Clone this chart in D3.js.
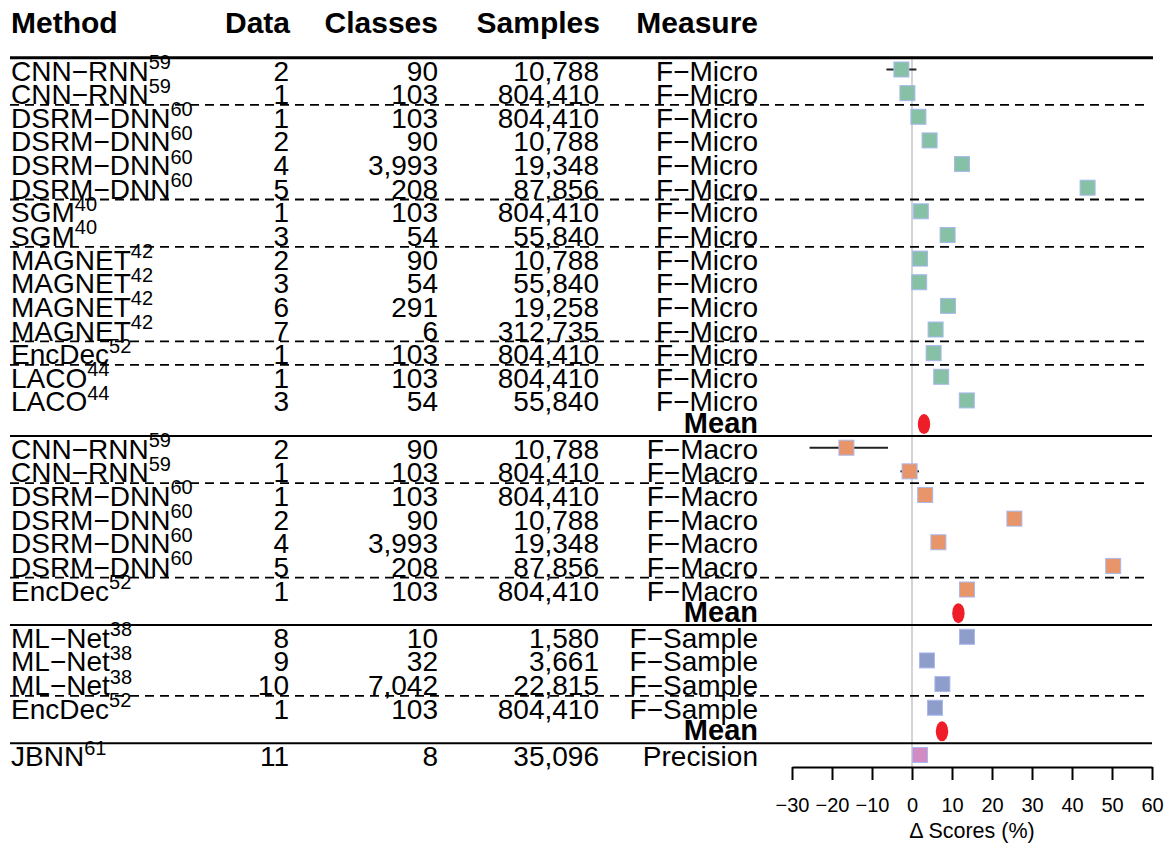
<!DOCTYPE html>
<html lang="en">
<head>
    <meta charset="UTF-8">
    <title>Forest plot</title>
    <script src="https://d3js.org/d3.v7.min.js"></script>
    <style>
        body { margin: 0; background: #fff; }
        text { font-family: "Liberation Sans", Arial, Helvetica, sans-serif; fill: #000; }
        .hdr { font-size: 30px; font-weight: bold; }
        .cell { font-size: 28px; }
        .sup { font-size: 20px; }
        .mean-lbl { font-size: 29px; font-weight: bold; }
        .axis text { font-size: 20px; }
    </style>
</head>
<body>
    <svg width="1170" height="846"></svg>
    <script>
        // study rows, top to bottom
        const methods = ["CNN−RNN", "CNN−RNN", "DSRM−DNN", "DSRM−DNN", "DSRM−DNN", "DSRM−DNN", "SGM", "SGM",
                         "MAGNET", "MAGNET", "MAGNET", "MAGNET", "EncDec", "LACO", "LACO",
                         "CNN−RNN", "CNN−RNN", "DSRM−DNN", "DSRM−DNN", "DSRM−DNN", "DSRM−DNN", "EncDec",
                         "ML−Net", "ML−Net", "ML−Net", "EncDec",
                         "JBNN"];
        const refs = ["59", "59", "60", "60", "60", "60", "40", "40", "42", "42", "42", "42", "52", "44", "44",
                      "59", "59", "60", "60", "60", "60", "52",
                      "38", "38", "38", "52",
                      "61"];
        const dataIds = [2, 1, 1, 2, 4, 5, 1, 3, 2, 3, 6, 7, 1, 1, 3,
                         2, 1, 1, 2, 4, 5, 1,
                         8, 9, 10, 1,
                         11];
        const classes = [90, 103, 103, 90, 3993, 208, 103, 54, 90, 54, 291, 6, 103, 103, 54,
                         90, 103, 103, 90, 3993, 208, 103,
                         10, 32, 7042, 103,
                         8];
        const samples = [10788, 804410, 804410, 10788, 19348, 87856, 804410, 55840, 10788, 55840, 19258, 312735, 804410, 804410, 55840,
                         10788, 804410, 804410, 10788, 19348, 87856, 804410,
                         1580, 3661, 22815, 804410,
                         35096];
        const measures = ["F−Micro", "F−Micro", "F−Micro", "F−Micro", "F−Micro", "F−Micro", "F−Micro", "F−Micro",
                          "F−Micro", "F−Micro", "F−Micro", "F−Micro", "F−Micro", "F−Micro", "F−Micro",
                          "F−Macro", "F−Macro", "F−Macro", "F−Macro", "F−Macro", "F−Macro", "F−Macro",
                          "F−Sample", "F−Sample", "F−Sample", "F−Sample",
                          "Precision"];
        const deltas = [-2.65, -1.15, 1.6, 4.4, 12.5, 43.9, 2.2, 8.9, 2.0, 1.8, 9.0, 5.9, 5.4, 7.3, 13.7,
                        -16.4, -0.6, 3.3, 25.6, 6.6, 50.3, 13.75,
                        13.75, 3.75, 7.6, 5.75,
                        2.0];
        // confidence interval ends (null = not drawn)
        const ciLow = [-6.4, null, null, null, null, null, null, null, null, null, null, null, null, null, null,
                       -25.6, -2.9, null, null, null, null, null,
                       null, null, null, null,
                       null];
        const ciHigh = [1.1, null, null, null, null, null, null, null, null, null, null, null, null, null, null,
                        -6.0, 1.75, null, null, null, null, null,
                        null, null, null, null,
                        null];

        const sections = ["F−Micro", "F−Macro", "F−Sample", "Precision"];
        const sectionMeans = [3.0, 11.6, 7.5, null];
        const sectionColors = ["#86c1a6", "#e8956a", "#8f9dcb", "#d38bc4"];
        const xTicks = [-30, -20, -10, 0, 10, 20, 30, 40, 50, 60];

        const fmt = d3.format(",");

        // build row layout: studies plus a mean row after each section
        const rows = [];
        sections.forEach((s, si) => {
            measures.forEach((m, i) => {
                if (m === s) rows.push({ kind: "study", i: i, sec: si });
            });
            if (sectionMeans[si] !== null) rows.push({ kind: "mean", sec: si, value: sectionMeans[si] });
        });

        const svg = d3.select("svg");

        const y = d3.scalePoint()
                    .domain(d3.range(rows.length))
                    .range([69.5, 755]);
        const x = d3.scaleLinear()
                    .domain([-30, 60])
                    .range([792, 1152]);
        const color = d3.scaleOrdinal().domain(sections).range(sectionColors);
        const step = y.step();

        // header
        const headers = [
            { t: "Method", x: 11, a: "start" },
            { t: "Data", x: 290, a: "end" },
            { t: "Classes", x: 438, a: "end" },
            { t: "Samples", x: 600, a: "end" },
            { t: "Measure", x: 758, a: "end" }
        ];
        svg.selectAll(".hdr")
           .data(headers)
           .enter().append("text")
           .attr("class", "hdr")
           .attr("x", d => d.x)
           .attr("y", 33)
           .attr("text-anchor", d => d.a)
           .text(d => d.t);

        // reference line at zero
        svg.append("line")
           .attr("x1", x(0)).attr("x2", x(0))
           .attr("y1", 56).attr("y2", 767)
           .attr("stroke", "#d4d4d4")
           .attr("stroke-width", 2);

        // table text
        const studyRows = rows.map((r, k) => ({ ...r, k })).filter(r => r.kind === "study");
        const meanRows = rows.map((r, k) => ({ ...r, k })).filter(r => r.kind === "mean");
        const base = k => y(k) + 11;

        const m = svg.selectAll(".method")
           .data(studyRows)
           .enter().append("text")
           .attr("class", "cell method")
           .attr("x", 11)
           .attr("y", d => base(d.k));
        m.append("tspan").text(d => methods[d.i]);
        m.append("tspan").attr("class", "sup").attr("dy", -11.5).text(d => refs[d.i]);

        const cols = [
            { x: 289, f: i => dataIds[i] },
            { x: 438, f: i => fmt(classes[i]) },
            { x: 599, f: i => fmt(samples[i]) },
            { x: 758, f: i => measures[i] }
        ];
        cols.forEach(c => {
            svg.selectAll(null)
               .data(studyRows)
               .enter().append("text")
               .attr("class", "cell")
               .attr("x", c.x)
               .attr("y", d => base(d.k))
               .attr("text-anchor", "end")
               .text(d => c.f(d.i));
        });

        svg.selectAll(".mean-lbl")
           .data(meanRows)
           .enter().append("text")
           .attr("class", "mean-lbl")
           .attr("x", 758)
           .attr("y", d => y(d.k) + 9)
           .attr("text-anchor", "end")
           .text("Mean");

        // separators
        svg.append("line")
           .attr("x1", 10).attr("x2", 1153)
           .attr("y1", y(0) - step / 2).attr("y2", y(0) - step / 2)
           .attr("stroke", "#000").attr("stroke-width", 3);
        for (let k = 0; k < rows.length - 1; k++) {
            const a = rows[k], b = rows[k + 1];
            const yy = y(k) + step / 2;
            if (a.kind === "mean") {
                svg.append("line")
                   .attr("x1", 10).attr("x2", 1152)
                   .attr("y1", yy).attr("y2", yy)
                   .attr("stroke", "#000").attr("stroke-width", 2);
            } else if (b.kind === "study" && a.sec === b.sec && methods[a.i] !== methods[b.i]) {
                svg.append("line")
                   .attr("x1", 10).attr("x2", 1145)
                   .attr("y1", yy).attr("y2", yy)
                   .attr("stroke", "#000").attr("stroke-width", 1.8)
                   .attr("stroke-dasharray", "9,6");
            }
        }

        // confidence intervals
        svg.selectAll(".ci")
           .data(studyRows.filter(d => ciLow[d.i] !== null))
           .enter().append("line")
           .attr("class", "ci")
           .attr("x1", d => x(ciLow[d.i]))
           .attr("x2", d => x(ciHigh[d.i]))
           .attr("y1", d => y(d.k))
           .attr("y2", d => y(d.k))
           .attr("stroke", "#222")
           .attr("stroke-width", 2);

        // study squares
        const sz = 15;
        svg.selectAll(".sq")
           .data(studyRows)
           .enter().append("rect")
           .attr("class", "sq")
           .attr("x", d => x(deltas[d.i]) - sz / 2)
           .attr("y", d => y(d.k) - sz / 2)
           .attr("width", sz)
           .attr("height", sz)
           .attr("fill", d => color(measures[d.i]))
           .attr("stroke", "#a9b8ef")
           .attr("stroke-width", 1);

        // pooled means
        svg.selectAll(".mn")
           .data(meanRows)
           .enter().append("ellipse")
           .attr("class", "mn")
           .attr("cx", d => x(d.value))
           .attr("cy", d => y(d.k))
           .attr("rx", 6.2)
           .attr("ry", 10)
           .attr("fill", "#ee1d27");

        // axis
        const axisY = 767;
        const ax = svg.append("g")
           .attr("class", "axis")
           .attr("transform", `translate(0,${axisY})`)
           .call(d3.axisBottom(x).tickValues(xTicks).tickSize(13).tickSizeOuter(0).tickPadding(18));
        ax.select(".domain").attr("stroke-width", 2);
        ax.selectAll(".tick line").attr("stroke-width", 2);
        ax.selectAll("text").attr("font-family", null);

        svg.append("text")
           .attr("x", (x(-30) + x(60)) / 2)
           .attr("y", 838)
           .attr("text-anchor", "middle")
           .style("font-size", "21.5px")
           .text("Δ Scores (%)");
    </script>
</body>
</html>
